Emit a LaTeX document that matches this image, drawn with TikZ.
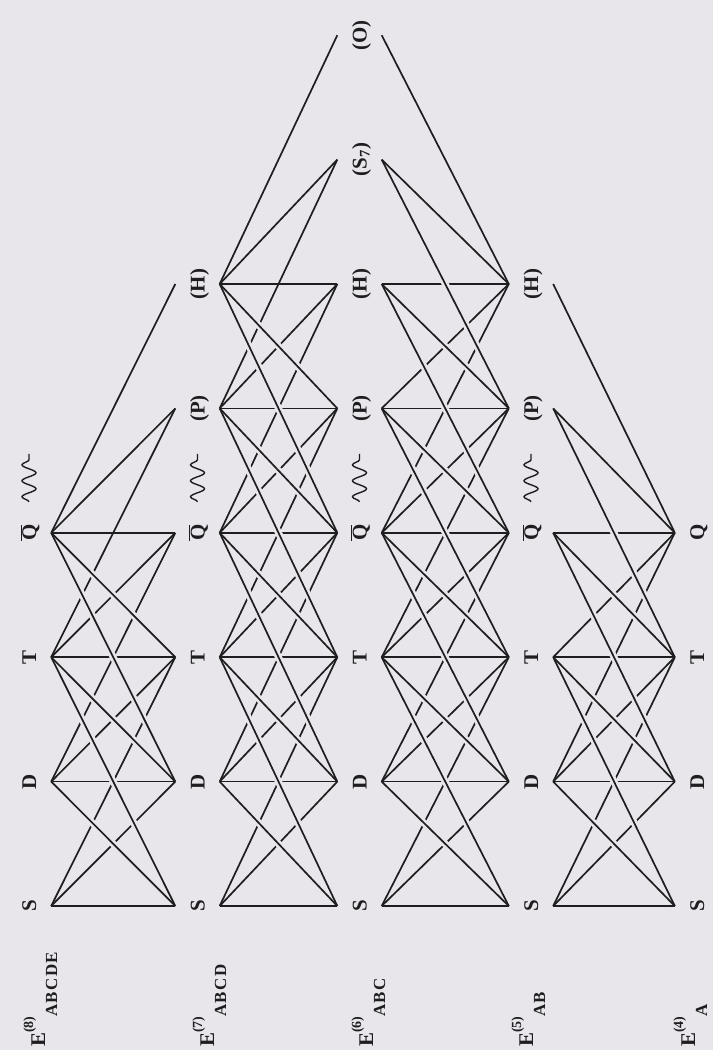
\documentclass[tikz,border=0pt]{standalone}
\usepackage{fontspec}
\setmainfont{Liberation Serif}
\usetikzlibrary{decorations.pathmorphing}
\definecolor{paper}{RGB}{232,230,235}
\definecolor{ink}{RGB}{30,30,32}
\newcommand\ordsup[1]{\raisebox{12bp}{\fontsize{14}{14}\selectfont #1}}
\newcommand\ordsub[1]{\raisebox{-12bp}{\fontsize{17}{17}\selectfont\addfontfeature{LetterSpace=8}#1}}

\begin{document}
\begin{tikzpicture}[x=1bp, y=-1bp,
  vtx/.style={rotate=90, inner sep=0pt, minimum height=44bp, text height=14bp, text depth=0pt,
    font=\fontsize{21}{21}\selectfont\bfseries, text=ink},
  order/.style={rotate=90, anchor=base west, inner sep=0pt, font=\fontsize{21}{21}\selectfont\bfseries, text=ink},
  edge/.style={draw=ink, line width=1.7bp},
  over/.style={edge, preaction={draw=paper, line width=7bp, shorten <=16bp, shorten >=16bp}},
  wave/.style={draw=ink, line width=1.4bp, decorate, decoration={snake, amplitude=7bp, segment length=16bp}}]
\fill[paper] (0,0) rectangle (713,1050);
\useasboundingbox (0,0) rectangle (713,1050);

% excitation levels of each order: column, x, highest level
\foreach \col/\xx/\hi in {1/29/4, 2/197.5/6, 3/359.5/8, 4/531/6, 5/697/4} {
  \foreach \lev/\lab in {1/S, 2/D, 3/T, 4/{\ifnum\col=5 Q\else$\overline{\hbox{Q}}$\fi}, 5/(P), 6/(H), 7/{(S\textsubscript{7})}, 8/(O)} {
    \ifnum\lev>\hi\relax\else
      \node[vtx] (c\col l\lev) at (\xx, {906-124.4*(\lev-1)}) {\lab};
    \fi
  }
}
\foreach \col in {1,...,4}
  \draw[wave] ([yshift=31bp]c\col l4.center) -- ([yshift=79bp]c\col l4.center);

% links between neighbouring orders, levels at most two apart
\foreach \col/\na/\nb in {1/4/6, 2/6/8, 3/8/6, 4/6/4} {
  \pgfmathtruncatemacro\nxt{\col+1}
  \foreach \a in {1,...,\na} {
    \foreach \b in {1,...,\nb} {
      \pgfmathtruncatemacro\dif{\b-\a}
      \ifnum\dif>-1 \ifnum\dif<3
        \draw[edge] (c\col l\a.south) -- (c\nxt l\b.north);
      \fi\fi
    }
  }
}
% falling links pass over the others
\foreach \col/\na/\nb in {1/4/6, 2/6/8, 3/8/6, 4/6/4} {
  \pgfmathtruncatemacro\nxt{\col+1}
  \foreach \a in {1,...,\na} {
    \foreach \b in {1,...,\nb} {
      \pgfmathtruncatemacro\dif{\a-\b}
      \ifnum\dif>0 \ifnum\dif<3
        \draw[over] (c\col l\a.south) -- (c\nxt l\b.north);
      \fi\fi
    }
  }
}

\node[order] (e8) at (45,1047) {E\ordsup{(8)}\ordsub{ABCDE}};
\node[order] (e7) at (214,1047) {E\ordsup{(7)}\ordsub{ABCD}};
\node[order] (e6) at (373,1047) {E\ordsup{(6)}\ordsub{ABC}};
\node[order] (e5) at (533,1047) {E\ordsup{(5)}\ordsub{AB}};
\node[order] (e4) at (695,1047) {E\ordsup{(4)}\ordsub{A}};
\end{tikzpicture}
\end{document}
